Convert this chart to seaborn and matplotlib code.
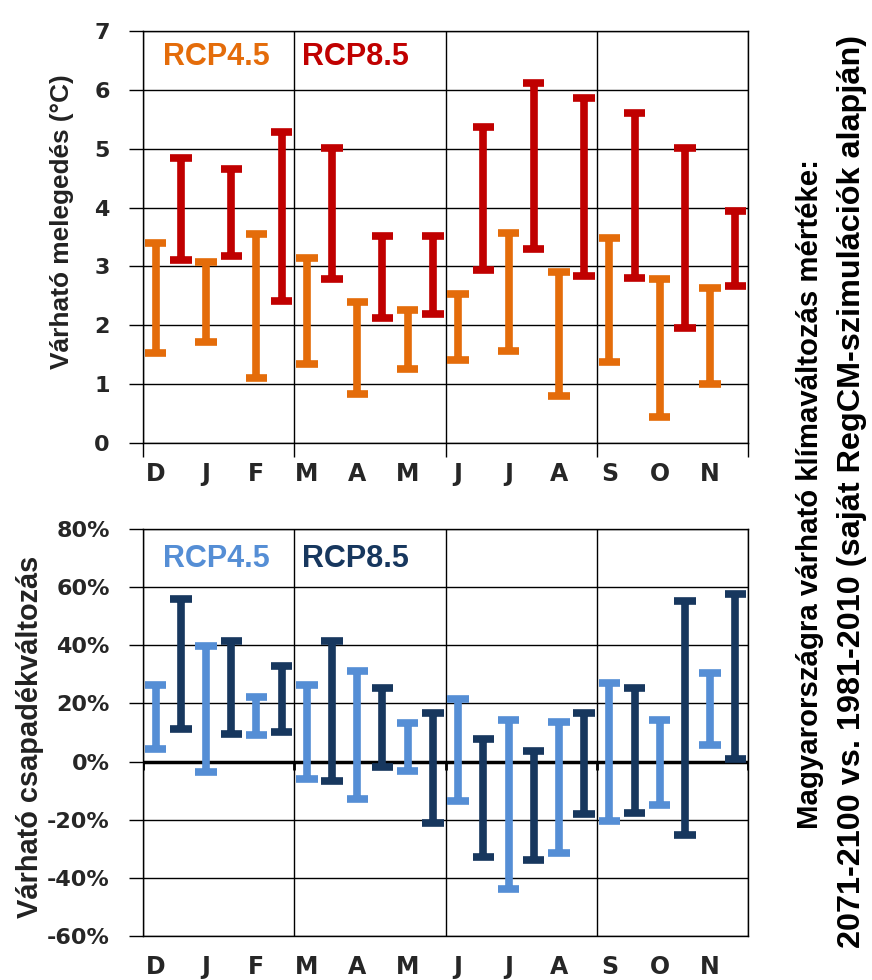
import numpy as np
import pandas as pd
import matplotlib
matplotlib.use("Agg")
import matplotlib.pyplot as plt
import seaborn as sns

# havi tartomanyok (min-max) a ket szcenarióra
months = ["D", "J", "F", "M", "A", "M", "J", "J", "A", "S", "O", "N"]
scenarios = ["RCP4.5", "RCP8.5"]

temp45_low = [1.53, 1.71, 1.11, 1.35, 0.84, 1.26, 1.41, 1.56, 0.80, 1.38, 0.44, 1.01]
temp45_high = [3.39, 3.07, 3.55, 3.15, 2.40, 2.26, 2.54, 3.56, 2.90, 3.48, 2.78, 2.63]
temp85_low = [3.11, 3.17, 2.42, 2.78, 2.12, 2.20, 2.94, 3.29, 2.84, 2.81, 1.95, 2.66]
temp85_high = [4.84, 4.65, 5.28, 5.02, 3.52, 3.51, 5.37, 6.12, 5.86, 5.61, 5.01, 3.95]

prec45_low = [4.3, -3.5, 9.2, -6.0, -13.0, -3.1, -13.6, -43.9, -31.6, -20.3, -14.9, 5.7]
prec45_high = [26.4, 39.6, 22.3, 26.4, 31.2, 13.2, 21.5, 14.3, 13.7, 27.0, 14.3, 30.4]
prec85_low = [11.2, 9.5, 10.3, -6.7, -2.0, -21.0, -32.7, -33.9, -18.1, -17.6, -25.3, 0.8]
prec85_high = [56.0, 41.6, 33.0, 41.6, 25.2, 16.6, 7.8, 3.6, 16.6, 25.2, 55.3, 57.7]

orange = "#E46C0A"
red = "#C00000"
lblue = "#558ED5"
dblue = "#17375E"

order = [f"{i:02d}" for i in range(24)]


def make_long(lo45, hi45, lo85, hi85):
    rows = []
    for i in range(12):
        for j, (lo, hi) in enumerate([(lo45[i], hi45[i]), (lo85[i], hi85[i])]):
            pos = order[2 * i + j]
            rows.append((pos, scenarios[j], lo))
            rows.append((pos, scenarios[j], hi))
    return pd.DataFrame(rows, columns=["pos", "scen", "val"])


df_t = make_long(temp45_low, temp45_high, temp85_low, temp85_high)
df_p = make_long(prec45_low, prec45_high, prec85_low, prec85_high)

sns.set_theme(style="white")
plt.rcParams["font.family"] = ["DejaVu Sans"]

fig = plt.figure(figsize=(8.72, 9.8), dpi=100)
ax1 = fig.add_axes([143 / 872, 1 - 443 / 980, 605 / 872, 412 / 980])
ax2 = fig.add_axes([143 / 872, 1 - 936 / 980, 605 / 872, 407 / 980])

season_edges = [-0.5, 5.5, 11.5, 17.5, 23.5]


def draw(ax, df, colors):
    sns.pointplot(data=df, x="pos", y="val", hue="scen", order=order,
                  hue_order=scenarios, palette=colors, estimator="mean",
                  errorbar=("pi", 100), capsize=0.85, linestyle="none",
                  marker="", legend=False, dodge=False,
                  err_kws={"linewidth": 5.5, "solid_capstyle": "butt"}, ax=ax)
    ax.set_xlim(-0.5, 23.5)
    ax.set_xticks(range(0, 24, 2))
    ax.set_xticklabels(months, fontsize=17, fontweight="bold")
    ax.set_xticks(season_edges, minor=True)
    ax.xaxis.grid(True, which="minor", color="black", linewidth=1.0)
    ax.yaxis.grid(True, which="major", color="black", linewidth=1.0)
    ax.set_axisbelow(True)
    for s in ax.spines.values():
        s.set_color("black")
        s.set_linewidth(1.0)
    ax.set_xlabel("")
    ax.set_ylabel("")
    ax.tick_params(axis="y", which="major", left=True, length=10, width=1,
                   color="black", pad=14, labelsize=16)


draw(ax1, df_t, [orange, red])
ax1.set_ylim(0, 7)
ax1.set_yticks(range(0, 8))
ax1.set_yticklabels([str(v) for v in range(0, 8)], fontsize=16, fontweight="bold")
ax1.tick_params(axis="x", which="major", length=0, pad=14)
ax1.tick_params(axis="x", which="minor", bottom=True, length=10, width=1, color="black")

draw(ax2, df_p, [lblue, dblue])
ax2.set_ylim(-60, 80)
ptick = list(range(-60, 81, 20))
ax2.set_yticks(ptick)
ax2.set_yticklabels([f"{v}%" for v in ptick], fontsize=16, fontweight="bold")
ax2.tick_params(axis="x", which="both", length=0, pad=14)
ax2.axhline(0, color="black", linewidth=2.5, zorder=1)
ax2.vlines(season_edges, -3, 0, color="black", linewidth=2.0, zorder=1)

fam = ["Liberation Sans", "DejaVu Sans"]

ax1.text(0.033, 0.938, "RCP4.5", transform=ax1.transAxes, color=orange,
         fontsize=22, fontweight="bold", family=fam, ha="left", va="center")
ax1.text(0.263, 0.938, "RCP8.5", transform=ax1.transAxes, color=red,
         fontsize=22, fontweight="bold", family=fam, ha="left", va="center")
ax2.text(0.033, 0.926, "RCP4.5", transform=ax2.transAxes, color=lblue,
         fontsize=22, fontweight="bold", family=fam, ha="left", va="center")
ax2.text(0.263, 0.926, "RCP8.5", transform=ax2.transAxes, color=dblue,
         fontsize=22, fontweight="bold", family=fam, ha="left", va="center")

t1 = fig.text(62 / 872, 1 - 222 / 980, "Várható melegedés (°C)", rotation=90,
              ha="center", va="center", fontsize=20, fontweight="bold", family=fam,
              color="#222222")
t2 = fig.text(30 / 872, 1 - 737 / 980, "Várható csapadékváltozás", rotation=90,
              ha="center", va="center", fontsize=20, fontweight="bold", family=fam,
              color="#222222")
t3 = fig.text(810 / 872, 1 - 494 / 980, "Magyarországra várható klímaváltozás mértéke:",
              rotation=90, ha="center", va="center", fontsize=20, fontweight="bold",
              family=fam, color="black")
t4 = fig.text(852 / 872, 1 - 491 / 980,
              "2071-2100 vs. 1981-2010 (saját RegCM-szimulációk alapján)",
              rotation=90, ha="center", va="center", fontsize=20, fontweight="bold",
              family=fam, color="black")

# fit rotated texts to the lengths seen in the reference
fig.canvas.draw()
rend = fig.canvas.get_renderer()
for t, target in [(t1, 295), (t2, 363), (t3, 668), (t4, 912)]:
    h = t.get_window_extent(rend).height
    t.set_fontsize(t.get_fontsize() * target / h)

fig.savefig("out.png", dpi=100)
